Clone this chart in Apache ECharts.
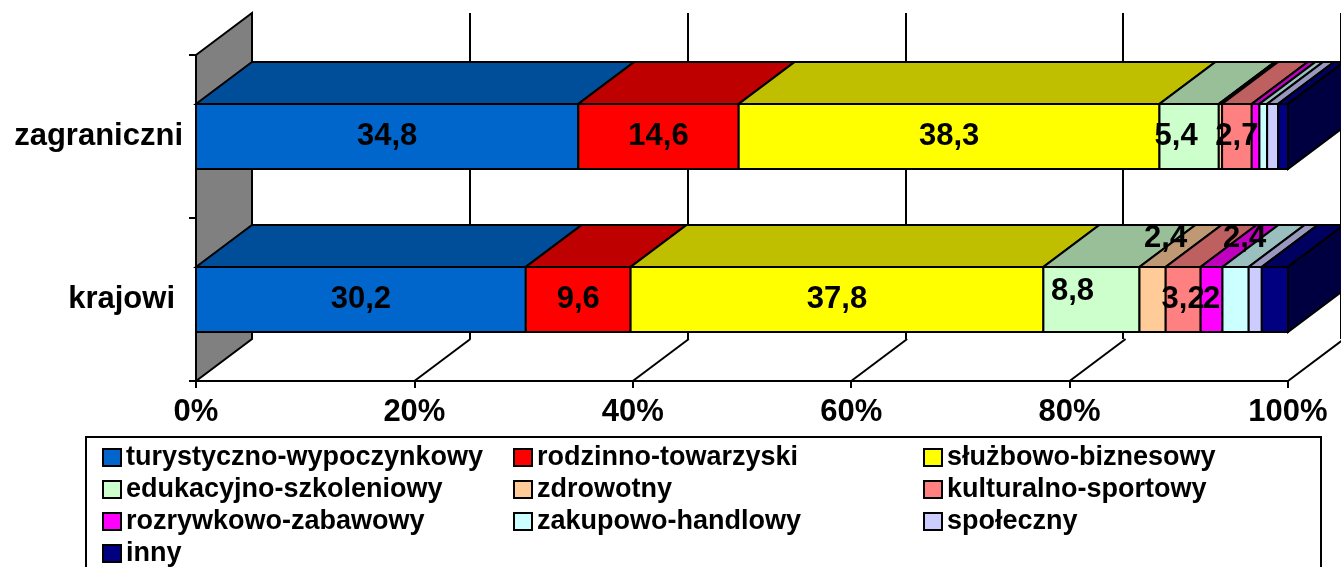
<!DOCTYPE html>
<html>
<head>
<meta charset="utf-8">
<script src="https://cdn.jsdelivr.net/npm/echarts@6/dist/echarts.min.js"></script>
<style>
  html, body { margin: 0; padding: 0; background: #fff; }
  #chart { width: 1341px; height: 567px; }
</style>
</head>
<body>
<div id="chart"></div>
<script>
// kategorie, od góry
const categories = ['zagraniczni', 'krajowi'];

// udział w %, kolejność: [zagraniczni, krajowi]
const turystyczno = [34.8, 30.2];
const rodzinno = [14.6, 9.6];
const sluzbowo = [38.3, 37.8];
const edukacyjno = [5.4, 8.8];
const zdrowotny = [0.3, 2.4];
const kulturalno = [2.7, 3.2];
const rozrywkowo = [0.7, 2.0];
const zakupowo = [0.7, 2.4];
const spoleczny = [1.0, 1.2];
const inny = [0.9, 2.4];

const seriesNames = [
    'turystyczno-wypoczynkowy', 'rodzinno-towarzyski', 'służbowo-biznesowy',
    'edukacyjno-szkoleniowy', 'zdrowotny', 'kulturalno-sportowy',
    'rozrywkowo-zabawowy', 'zakupowo-handlowy', 'społeczny', 'inny'
];
const seriesValues = [turystyczno, rodzinno, sluzbowo, edukacyjno, zdrowotny,
    kulturalno, rozrywkowo, zakupowo, spoleczny, inny];

const tickValues = [0, 20, 40, 60, 80, 100];

// wygląd
const colors = ['#0066CC', '#FF0000', '#FFFF00', '#CCFFCC', '#FFCC99',
    '#FF8080', '#FF00FF', '#CCFFFF', '#CCCCFF', '#000080'];
const DX = 56, DY = -42;          // głębokość "3D"
const FONT = '"Liberation Sans", Arial, sans-serif';

// etykiety: które ukryć i które przesunąć  (klucz: seria|kategoria)
const hiddenLabels = ['4|0', '6|0', '7|0', '8|0', '9|0', '8|1', '9|1'];
const labelShift = { '4|1': [13, -61], '7|1': [9, -61], '3|1': [-19, -8], '3|0': [-13, 0] };

const shade = (hex, k) => {
    const n = parseInt(hex.slice(1), 16);
    const r = Math.round(((n >> 16) & 255) * k);
    const g = Math.round(((n >> 8) & 255) * k);
    const b = Math.round((n & 255) * k);
    return 'rgb(' + r + ',' + g + ',' + b + ')';
};

// 100% stos
const totals = categories.map((c, ci) => seriesValues.reduce((s, arr) => s + arr[ci], 0));
const cum = categories.map(() => 0);

const barSeries = seriesValues.map((arr, si) => {
    const data = arr.map((v, ci) => {
        const start = cum[ci];
        const end = start + v / totals[ci] * 100;
        cum[ci] = end;
        return [start, end, ci, v];
    });
    const isLast = si === seriesValues.length - 1;
    const color = colors[si];
    return {
        type: 'custom',
        name: seriesNames[si],
        itemStyle: { color: color },
        encode: { x: [0, 1], y: 2 },
        data: data,
        z: 3,
        renderItem: (params, api) => {
            const ci = api.value(2);
            const p0 = api.coord([api.value(0), ci]);
            const p1 = api.coord([api.value(1), ci]);
            const h = api.size([0, 1])[1] * 0.4;
            const yT = p0[1] - h / 2, yB = p0[1] + h / 2;
            const x0 = p0[0], x1 = p1[0];
            const children = [
                { type: 'polygon', shape: { points: [[x0, yT], [x1, yT], [x1, yB], [x0, yB]] },
                  style: { fill: color, stroke: '#000', lineWidth: 2 } },
                { type: 'polygon', shape: { points: [[x0, yT], [x1, yT], [x1 + DX, yT + DY], [x0 + DX, yT + DY]] },
                  style: { fill: shade(color, 0.75), stroke: '#000', lineWidth: 2 } }
            ];
            if (isLast) {
                children.push({ type: 'polygon',
                    shape: { points: [[x1, yT], [x1 + DX, yT + DY], [x1 + DX, yB + DY], [x1, yB]] },
                    style: { fill: shade(color, 0.5), stroke: '#000', lineWidth: 2 } });
            }
            const key = si + '|' + ci;
            if (hiddenLabels.indexOf(key) < 0) {
                const off = labelShift[key] || [0, 0];
                children.push({ type: 'text', z2: 100,
                    style: { text: String(api.value(3)).replace('.', ','),
                        x: (x0 + x1) / 2 + off[0], y: p0[1] + off[1],
                        fill: '#000', font: 'bold 31px ' + FONT,
                        align: 'center', verticalAlign: 'middle' } });
            }
            return { type: 'group', children: children };
        }
    };
});

// ściana boczna i linie podłogi
const frameSeries = {
    type: 'custom',
    name: 'frame',
    silent: true,
    z: 1,
    encode: { x: 0, y: 1 },
    data: tickValues.map(v => [v, 0]),
    renderItem: (params, api) => {
        const cs = params.coordSys;
        const x = api.coord([api.value(0), 0])[0];
        const yb = cs.y + cs.height;
        const children = [];
        if (api.value(0) === tickValues[0]) {
            children.push({ type: 'polygon',
                shape: { points: [[x, cs.y], [x + DX, cs.y + DY], [x + DX, yb + DY], [x, yb]] },
                style: { fill: '#808080', stroke: '#000', lineWidth: 2 } });
        } else {
            children.push({ type: 'line', shape: { x1: x, y1: yb, x2: x + DX, y2: yb + DY },
                style: { stroke: '#000', lineWidth: 2 } });
        }
        return { type: 'group', children: children };
    }
};

const legendBase = {
    orient: 'vertical',
    top: 444,
    padding: 0,
    itemWidth: 18,
    itemHeight: 17,
    itemGap: 5,
    selectedMode: false,
    icon: 'rect',
    itemStyle: { borderColor: '#000', borderWidth: 2 },
    textStyle: { fontFamily: FONT, fontWeight: 'bold', fontSize: 27, lineHeight: 26, color: '#000' }
};

const labelFont = { color: '#000', fontFamily: FONT, fontWeight: 'bold', fontSize: 31 };

const myChart = echarts.init(document.getElementById('chart'));
myChart.setOption({
    animation: false,
    backgroundColor: '#fff',
    grid: [
        { left: 196, right: 53, top: 55, bottom: 186 },
        { left: 196 + DX, right: 53 - DX, top: 55 + DY, bottom: 186 - DY }
    ],
    xAxis: [
        {
            type: 'value', gridIndex: 0, min: 0, max: 100, interval: 20,
            axisLine: { show: true, lineStyle: { color: '#000', width: 2 } },
            axisTick: { show: true, length: 7, lineStyle: { color: '#000', width: 2 } },
            splitLine: { show: false },
            axisLabel: Object.assign({ formatter: '{value}%', margin: 16 }, labelFont)
        },
        {
            type: 'value', gridIndex: 1, min: 0, max: 100, interval: 20,
            axisLine: { show: false }, axisTick: { show: false }, axisLabel: { show: false },
            splitLine: { show: true, lineStyle: { color: '#000', width: 2 } }
        }
    ],
    yAxis: [
        {
            type: 'category', gridIndex: 0, data: categories, inverse: true,
            axisLine: { show: true, lineStyle: { color: '#000', width: 2 } },
            axisTick: { show: true, length: 7, lineStyle: { color: '#000', width: 2 } },
            axisLabel: Object.assign({
                margin: 13,
                formatter: v => v === 'krajowi' ? '{k|' + v + '}' : v,
                rich: { k: Object.assign({ padding: [0, 8, 0, 0] }, labelFont) }
            }, labelFont)
        },
        { type: 'value', gridIndex: 1, show: false, splitLine: { show: false } }
    ],
    legend: [
        Object.assign({}, legendBase, { left: 102, data: [seriesNames[0], seriesNames[3], seriesNames[6], seriesNames[9]] }),
        Object.assign({}, legendBase, { left: 513, data: [seriesNames[1], seriesNames[4], seriesNames[7]] }),
        Object.assign({}, legendBase, { left: 923, data: [seriesNames[2], seriesNames[5], seriesNames[8]] })
    ],
    graphic: [
        { type: 'rect', left: 85, top: 436, z: -1, shape: { width: 1235, height: 200 },
          style: { fill: '#fff', stroke: '#000', lineWidth: 2 } }
    ],
    series: [frameSeries].concat(barSeries)
});
</script>
</body>
</html>
